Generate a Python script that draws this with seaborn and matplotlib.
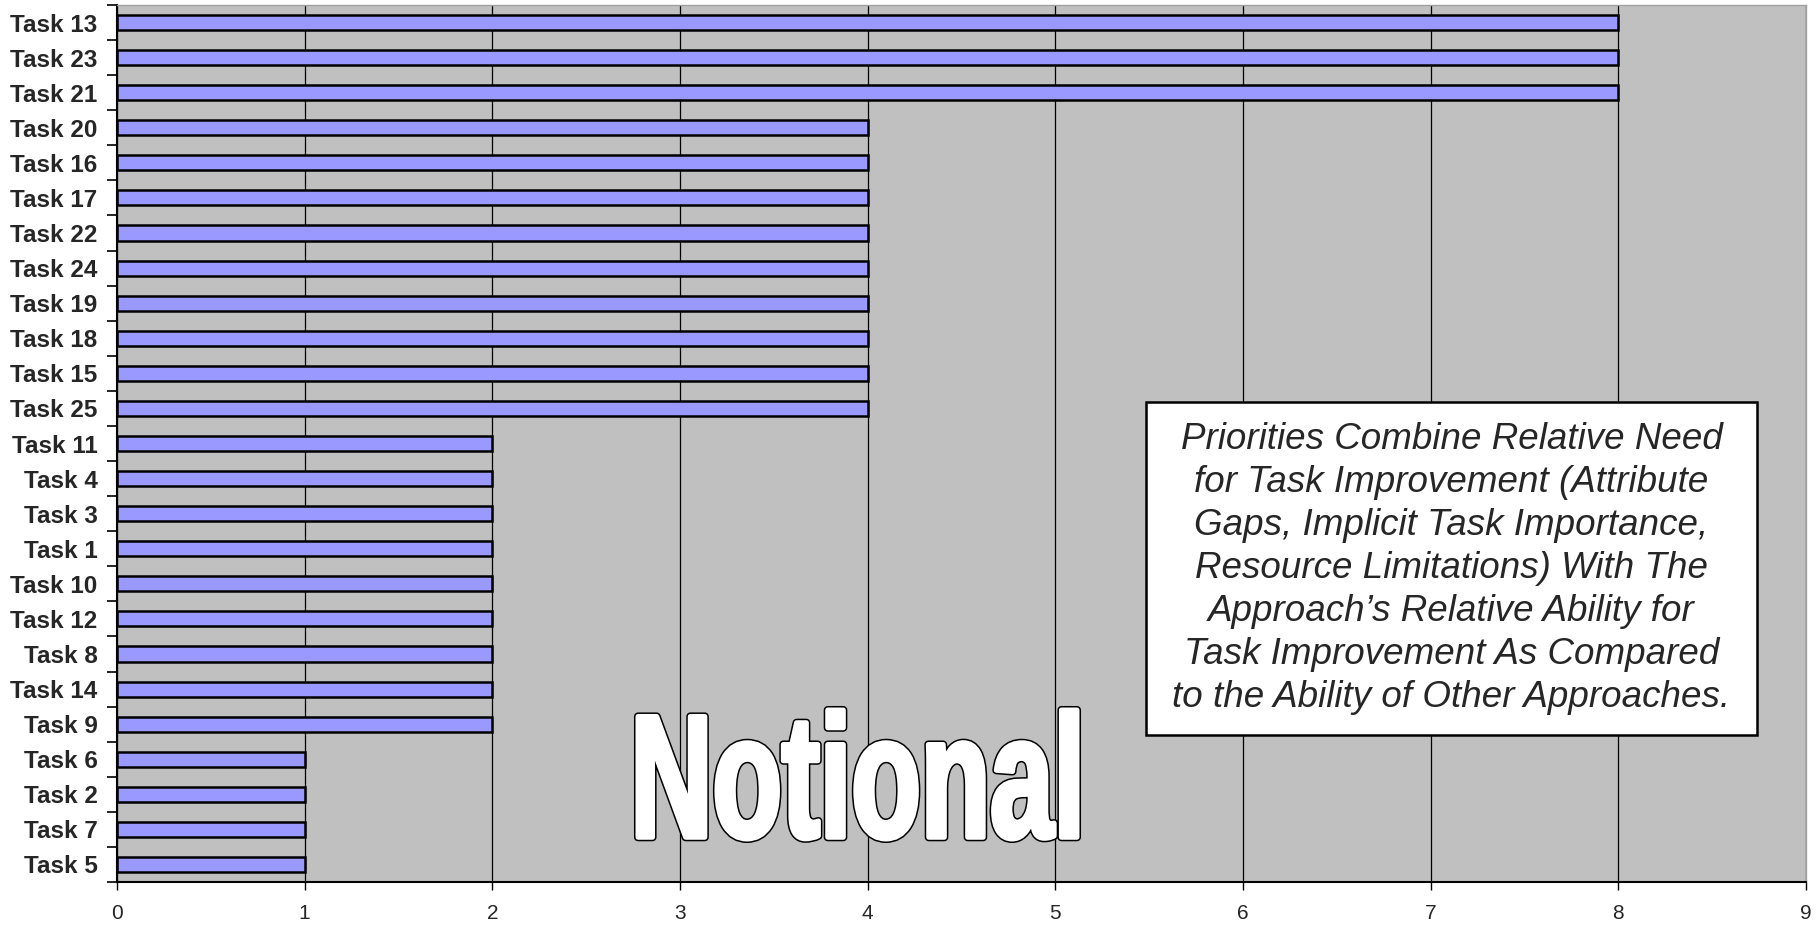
import matplotlib
matplotlib.use("Agg")
import matplotlib.pyplot as plt
import seaborn as sns
import pandas as pd
import numpy as np
from matplotlib.textpath import TextPath
from matplotlib.font_manager import FontProperties
from matplotlib.patches import PathPatch, Rectangle
from matplotlib.transforms import Affine2D
from matplotlib.ticker import FixedLocator

tasks = ["Task 13", "Task 23", "Task 21", "Task 20", "Task 16", "Task 17", "Task 22",
         "Task 24", "Task 19", "Task 18", "Task 15", "Task 25", "Task 11", "Task 4",
         "Task 3", "Task 1", "Task 10", "Task 12", "Task 8", "Task 14", "Task 9",
         "Task 6", "Task 2", "Task 7", "Task 5"]
priorities = [8, 8, 8, 4, 4, 4, 4, 4, 4, 4, 4, 4, 2, 2, 2, 2, 2, 2, 2, 2, 2, 1, 1, 1, 1]
x_ticks = [0, 1, 2, 3, 4, 5, 6, 7, 8, 9]
note = ("Priorities Combine Relative Need\nfor Task Improvement (Attribute\n"
        "Gaps, Implicit Task Importance,\nResource Limitations) With The\n"
        "Approach\u2019s Relative Ability for\nTask Improvement As Compared\n"
        "to the Ability of Other Approaches.")
watermark = "Notional"

sns.set_style("white")
plt.rcParams['font.family'] = ['Liberation Sans', 'DejaVu Sans']

df = pd.DataFrame({"task": tasks, "priority": priorities})

fig = plt.figure(figsize=(18.2, 9.26), dpi=100)
W, H = 1820, 926
ax = fig.add_axes([117 / W, 1 - 882 / H, (1806 - 117) / W, (882 - 5) / H])
ax.set_facecolor("#C0C0C0")
ax.set_zorder(1)

sns.barplot(data=df, x="priority", y="task", orient="h", color="#9999FF",
            edgecolor="black", linewidth=1.8, width=0.43, ax=ax, saturation=1)

ax.set_xlim(0, 9)
ax.set_ylim(len(tasks) - 0.5, -0.5)
ax.set_xticks(x_ticks)
ax.set_xticklabels([str(t) for t in x_ticks], fontsize=15)
ax.set_xlabel("")
ax.set_ylabel("")
ax.set_axisbelow(True)
ax.xaxis.grid(True, color="black", linewidth=0.9)
ax.yaxis.grid(False)

ax.yaxis.set_minor_locator(FixedLocator(np.arange(-0.5, len(tasks), 1)))
ax.tick_params(axis="y", which="major", length=0, pad=14, labelsize=17.5)
for lbl in ax.get_yticklabels():
    lbl.set_fontweight("bold")
ax.tick_params(axis="y", which="minor", length=7, width=1.2, color="black", direction="out", left=True)
ax.tick_params(axis="x", which="major", length=6, width=1.0, color="black", direction="out", bottom=True, pad=10)

for s in ["left", "bottom"]:
    ax.spines[s].set_color("black")
    ax.spines[s].set_linewidth(1.5)
for s in ["top", "right"]:
    ax.spines[s].set_color("#A0A0A0")
    ax.spines[s].set_linewidth(1.0)

# Note box
bx0, by0, bx1, by1 = 1146, 402, 1757, 735
fig.patches.append(Rectangle((bx0 / W, 1 - by1 / H), (bx1 - bx0) / W, (by1 - by0) / H,
                             transform=fig.transFigure, facecolor="white",
                             edgecolor="black", linewidth=1.8, zorder=5))
fig.text((bx0 + bx1) / 2 / W, 1 - (by0 + by1) / 2 / H, note,
         ha="center", va="center", fontsize=26.5, style="italic", linespacing=1.3,
         zorder=10)

# Watermark
fp = FontProperties(family="Liberation Sans", weight="bold")
tp = TextPath((0, 0), watermark, size=100, prop=fp)
ext = tp.get_extents()
inset = 3
wx0, wx1, wy0, wy1 = 635 + inset, 1080 - inset, 707 + inset, 842 - inset
sx = (wx1 - wx0) / ext.width / W
sy = (wy1 - wy0) / ext.height / H
tr = Affine2D().translate(-ext.x0, -ext.y0).scale(sx, sy).translate(wx0 / W, 1 - wy1 / H) + fig.transFigure
fig.patches.append(PathPatch(tp, transform=tr, facecolor="black", edgecolor="black",
                             linewidth=5.8, joinstyle="round", zorder=20))
fig.patches.append(PathPatch(tp, transform=tr, facecolor="white", edgecolor="white",
                             linewidth=3.6, joinstyle="round", zorder=21))

fig.savefig("out.png", dpi=100)
